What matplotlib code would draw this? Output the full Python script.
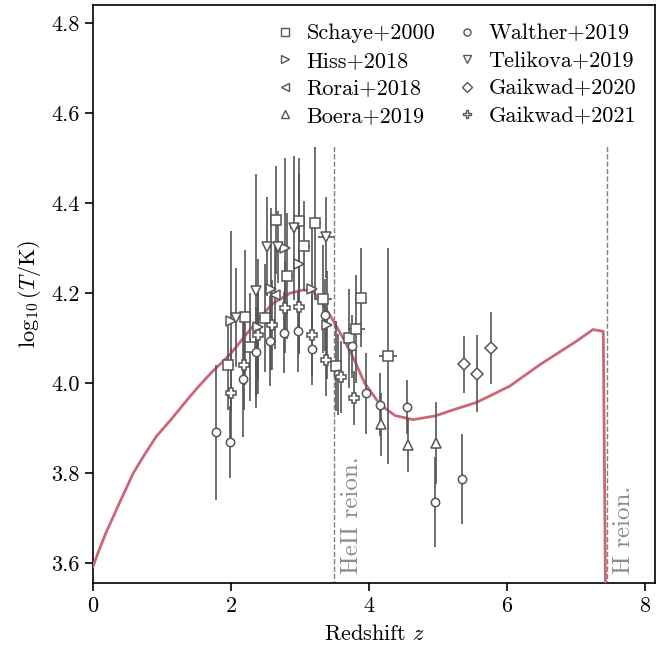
import matplotlib
matplotlib.use("Agg")
import matplotlib.pyplot as plt
from matplotlib.lines import Line2D

plt.rcParams['font.family'] = ['cmr10', 'DejaVu Serif']
plt.rcParams['mathtext.fontset'] = 'cm'
plt.rcParams['axes.formatter.use_mathtext'] = True

# model curve
curve_z = [0, 0.10, 0.20, 0.29, 0.39, 0.49, 0.58, 0.73, 0.92, 1.12, 1.26, 1.41, 1.54, 1.72, 1.91,
           2.0, 2.2, 2.40, 2.6, 2.86, 3.05, 3.19, 3.34, 3.48, 3.63, 3.77, 3.94, 4.16, 4.38, 4.64,
           4.96, 5.25, 5.56, 6.04, 6.5, 7.0, 7.25, 7.40, 7.44]
curve_T = [3.593, 3.634, 3.672, 3.702, 3.736, 3.769, 3.799, 3.837, 3.882, 3.917, 3.943, 3.971, 3.994,
           4.024, 4.052, 4.066, 4.104, 4.142, 4.176, 4.20, 4.207, 4.204, 4.174, 4.14, 4.099, 4.058,
           4.0, 3.953, 3.928, 3.919, 3.927, 3.942, 3.957, 3.993, 4.043, 4.092, 4.119, 4.115, 3.40]

# observations
schaye_z = [1.96, 2.20, 2.28, 2.49, 2.65, 2.82, 2.99, 3.06, 3.22, 3.34, 3.52, 3.71, 3.82, 3.88, 4.28]
schaye_T = [4.04, 4.146, 4.08, 4.145, 4.362, 4.237, 4.36, 4.304, 4.355, 4.187, 4.037, 4.10, 4.121, 4.19, 4.061]
schaye_err = [0.10, 0.15, 0.12, 0.12, 0.12, 0.14, 0.14, 0.10, 0.17, 0.12, 0.10, 0.11, 0.12, 0.11, 0.24]
schaye_xerr = [0.08, 0.08, 0.08, 0.08, 0.08, 0.08, 0.08, 0.08, 0.08, 0.12, 0.08, 0.08, 0.12, 0.08, 0.13]

hiss_z = [2.00, 2.40, 2.58, 2.78, 2.99, 3.18, 3.39]
hiss_T = [4.138, 4.125, 4.209, 4.301, 4.264, 4.21, 4.129]
hiss_err = [0.20, 0.15, 0.18, 0.20, 0.20, 0.15, 0.12]

rorai_z = [2.64]
rorai_T = [4.196]
rorai_err = [0.12]

boera_z = [4.18, 4.57, 4.98]
boera_T = [3.909, 3.863, 3.867]
boera_err = [0.07, 0.06, 0.09]

walther_z = [1.78, 1.98, 2.18, 2.37, 2.57, 2.77, 2.97, 3.17, 3.36, 3.55, 3.76, 3.96, 4.16, 4.56, 4.96, 5.35]
walther_T = [3.891, 3.87, 4.01, 4.069, 4.094, 4.112, 4.115, 4.076, 4.151, 4.02, 4.082, 3.978, 3.952, 3.948, 3.736, 3.786]
walther_err = [0.15, 0.08, 0.13, 0.10, 0.10, 0.09, 0.09, 0.08, 0.08, 0.09, 0.07, 0.09, 0.07, 0.06, 0.10, 0.10]

telikova_z = [2.08, 2.36, 2.52, 2.69, 2.92, 3.38]
telikova_T = [4.145, 4.205, 4.303, 4.303, 4.345, 4.324]
telikova_err = [0.11, 0.26, 0.11, 0.08, 0.16, 0.09]
telikova_xerr = [0, 0, 0, 0, 0.07, 0.12]

gaik20_z = [5.38, 5.57, 5.77]
gaik20_T = [4.042, 4.021, 4.079]
gaik20_err = [0.063, 0.085, 0.08]

gaik21_z = [1.995, 2.19, 2.39, 2.59, 2.78, 2.99, 3.18, 3.38, 3.59, 3.78]
gaik21_T = [3.979, 4.04, 4.106, 4.13, 4.168, 4.17, 4.106, 4.052, 4.013, 3.967]
gaik21_err = [0.10, 0.10, 0.10, 0.10, 0.10, 0.10, 0.09, 0.08, 0.08, 0.06]

grey = '#555555'
rose = '#cc6677'

fig = plt.figure(figsize=(6.67, 6.5), dpi=100)
ax = fig.add_axes([93 / 667, 1 - 583 / 650, (655 - 93) / 667, (583 - 5) / 650])

datasets = [
    ('Schaye+2000', 's', schaye_z, schaye_T, schaye_err, schaye_xerr),
    ('Hiss+2018', '>', hiss_z, hiss_T, hiss_err, None),
    ('Rorai+2018', '<', rorai_z, rorai_T, rorai_err, None),
    ('Boera+2019', '^', boera_z, boera_T, boera_err, None),
    ('Walther+2019', 'o', walther_z, walther_T, walther_err, None),
    ('Telikova+2019', 'v', telikova_z, telikova_T, telikova_err, telikova_xerr),
    ('Gaikwad+2020', 'D', gaik20_z, gaik20_T, gaik20_err, None),
    ('Gaikwad+2021', 'P', gaik21_z, gaik21_T, gaik21_err, None),
]

sizes = {'s': 7, '>': 7.5, '<': 7.5, '^': 7.5, 'o': 6, 'v': 7.5, 'D': 6.5, 'P': 7.5}
handles = []
for name, m, z, T, err, xerr in datasets:
    ax.errorbar(z, T, yerr=err, xerr=xerr, fmt=m, ms=sizes[m], mfc='white', mec=grey,
                mew=1.1, ecolor=grey, elinewidth=1.2, capsize=0, zorder=4)
    handles.append(Line2D([], [], ls='none', marker=m, ms=sizes[m] * 0.85,
                          mfc='white', mec=grey, mew=1.0, label=name))

ax.plot(curve_z, curve_T, color=rose, lw=2, zorder=3)

for zr, lab in [(3.5, 'HeII reion.'), (7.45, 'H reion.')]:
    ax.vlines(zr, 3.5, 4.53, colors='grey', linestyles='--', lw=1, zorder=1)
    ax.text(zr + 0.09, 3.575, lab, rotation=90, color='0.55', fontsize=18,
            ha='left', va='bottom')

ax.set_xlim(0, 8.15)
ax.set_ylim(3.556, 4.84)
ax.set_xticks([0, 2, 4, 6, 8])
ax.set_yticks([3.6, 3.8, 4.0, 4.2, 4.4, 4.6, 4.8])
ax.yaxis.set_major_formatter(matplotlib.ticker.FormatStrFormatter('%.1f'))
ax.tick_params(labelsize=16, direction='out', length=6, width=1.2)
for s in ax.spines.values():
    s.set_linewidth(1.2)
ax.set_xlabel(r'Redshift $z$', fontsize=16, labelpad=6)
ax.set_ylabel(r'$\log_{10}(T/\mathrm{K})$', fontsize=16, labelpad=6)

ax.legend(handles=handles, ncol=2, loc='upper right', frameon=False,
          fontsize=16, handlelength=1.0, handletextpad=0.45, columnspacing=0.95,
          labelspacing=0.36, borderaxespad=0.45)

fig.savefig('out.png', dpi=100)
